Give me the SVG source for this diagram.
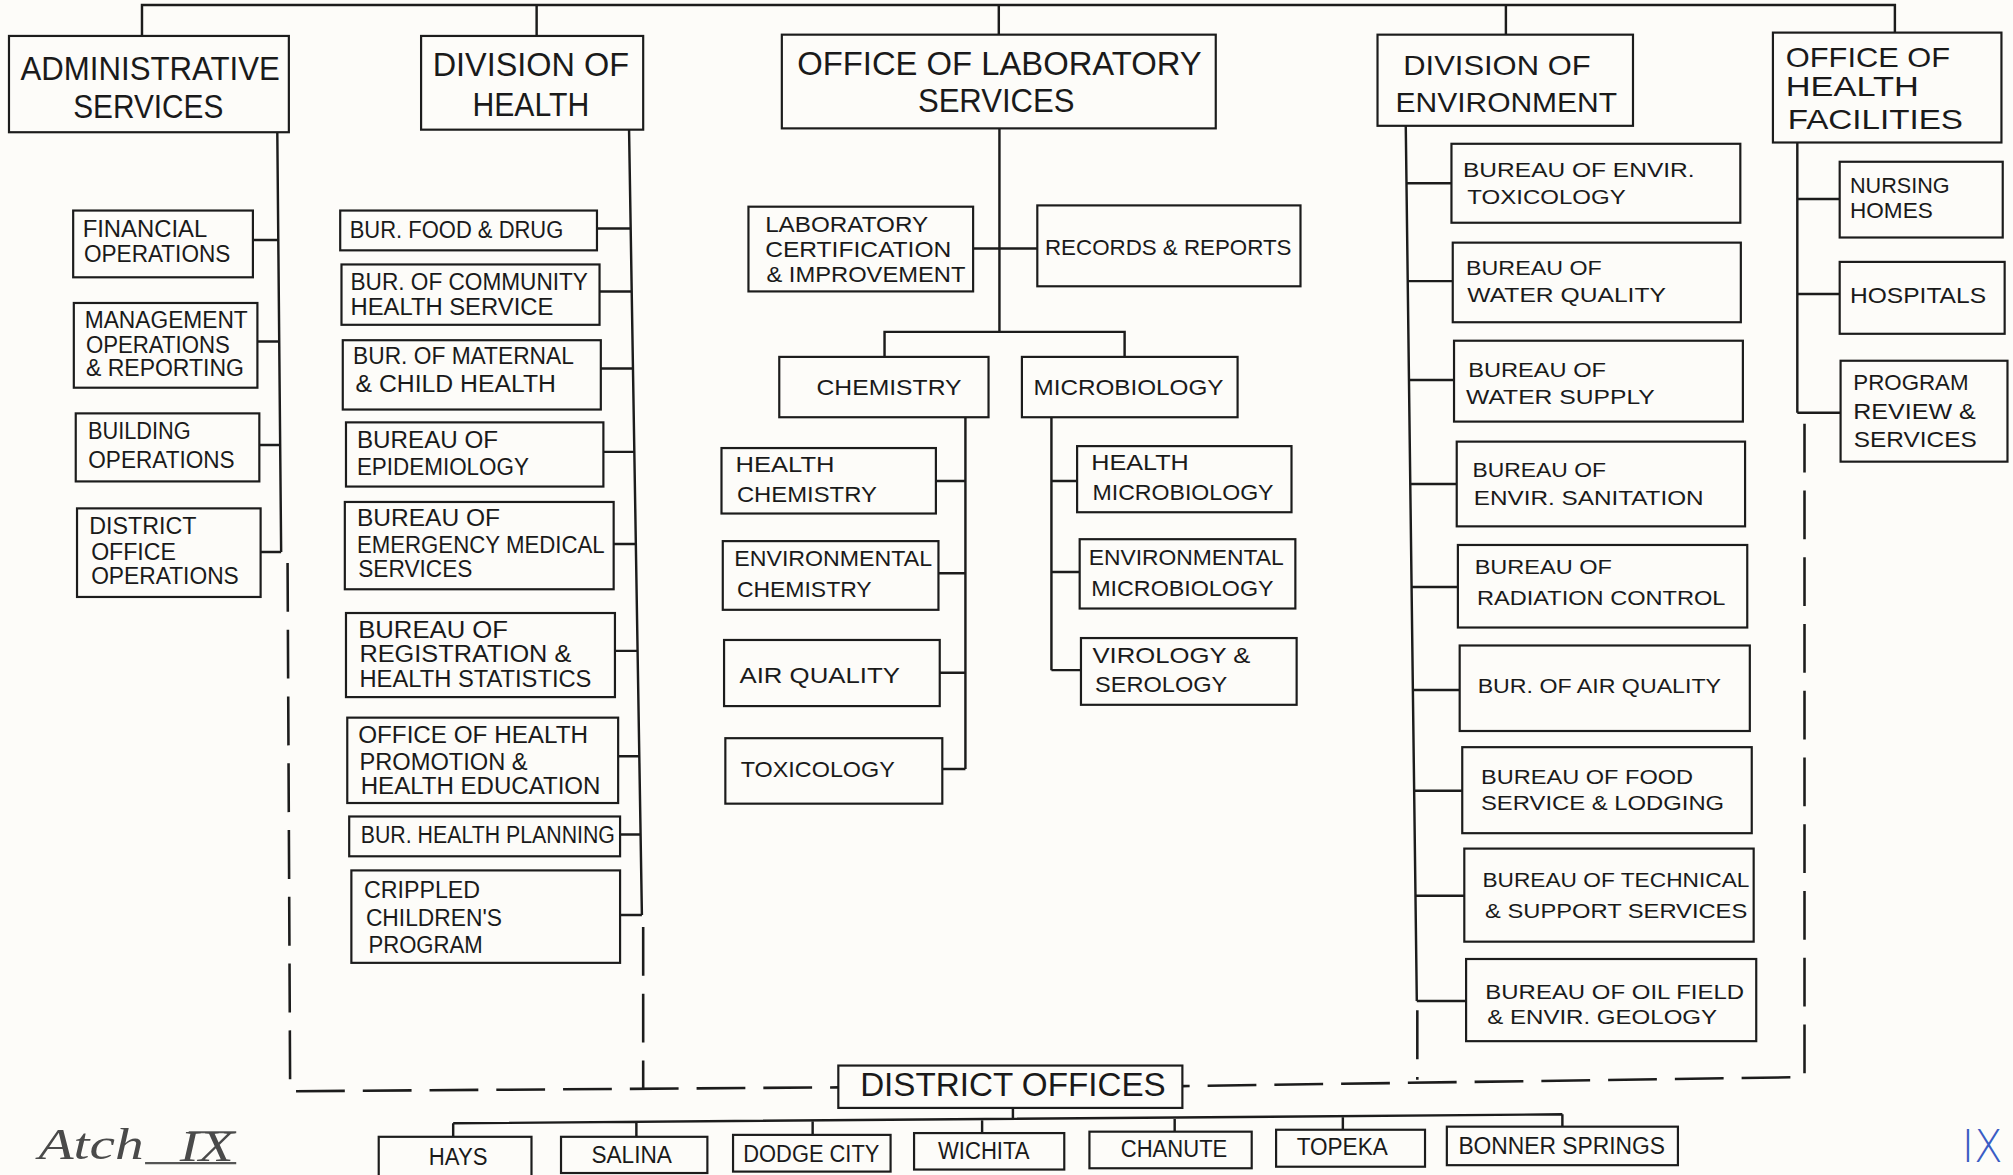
<svg xmlns="http://www.w3.org/2000/svg" width="2013" height="1175" viewBox="0 0 2013 1175">
<style>
.b{fill:#fdfcf9;stroke:#1c1c1c;stroke-width:1.7}
.c{fill:none;stroke:#1c1c1c;stroke-width:1.9;stroke-linejoin:miter}
.d{fill:none;stroke:#1c1c1c;stroke-width:2;stroke-dasharray:38 14}
text{font-family:"Liberation Sans","DejaVu Sans",Arial,sans-serif;fill:#1a1a1a}
.L{font-size:25.5px}
.M{font-size:22px}
.A{font-size:18px}
.S{font-size:17px}
.E{font-size:15.5px}
.H{font-size:16.5px}
.C{font-size:18px}
.hw{font-family:"Liberation Serif","DejaVu Serif",serif;font-style:italic;fill:#4a4a4a;font-size:34px}
.blue{font-family:"DejaVu Sans",sans-serif;fill:#3a5cc4;font-size:34px;font-weight:300}
</style>
<rect width="2013" height="1175" fill="#fdfcf9"/>
<g transform="scale(1.2838)">

<g id="connectors">
  <path class="c" d="M110.6,28 V3.9 H1476 V25.4 M418,3.9 V28 M778,3.9 V27 M1173,3.9 V27"/>
  <path class="c" d="M216,103 L219,430 M197,187 H216.3 M200.6,266 H217 M201.6,346.7 H218 M202.7,430 H219"/>
  <path class="d" d="M224,438.6 L226,850 L653,847"/>
  <path class="c" d="M490,101 L500,712.7 M465,178 H491 M467,227 H491.8 M468,287 H492.8 M470,352 H493.9 M478,423.7 H495 M479,507 H496.3 M481.6,589 H497.6 M483,650 H498.6 M483,712.7 H500"/>
  <path class="d" d="M501,722 V848"/>
  <path class="c" d="M778.5,100 V258.5 M757.8,193.5 H808 M689,278 V258.5 H876 V278"/>
  <path class="c" d="M752,325 V599 M729,374.6 H752 M731,446.5 H752 M732,524 H752 M734,599 H752"/>
  <path class="c" d="M819,325 V522 M819,374.6 H839 M819,445.6 H841 M819,522 H842"/>
  <path class="c" d="M1095,98 L1103.6,779.7 M1095.6,142.8 H1130.6 M1096.5,219 H1131.6 M1097.5,296 H1132.6 M1098.5,377 H1134.7 M1099.5,457.3 H1135.6 M1100.5,537.5 H1137 M1101.5,616 H1139 M1102.6,697.7 H1140.6 M1103.6,779.7 H1142"/>
  <path class="d" d="M1104,787 V841"/>
  <path class="c" d="M1400,111 V321.5 M1400,155 H1433 M1400,229 H1433 M1400,321.5 H1433.7"/>
  <path class="d" d="M1405.6,330 V839 L921,846"/>
  <path class="c" d="M789,863 V871.5 M353,875 L1217,868 M353,875 V885.5 M495.7,874 V885.5 M633,873 V884 M765,872 V882.6 M915,870.8 V881.5 M1046,869.8 V880 M1217,868 V877.6"/>
</g>

<g id="administrative-services">
  <rect class="b" x="7" y="28" width="218" height="75"/>
  <text class="L" x="16" y="62" textLength="202" lengthAdjust="spacingAndGlyphs">ADMINISTRATIVE</text>
  <text class="L" x="57" y="92" textLength="117" lengthAdjust="spacingAndGlyphs">SERVICES</text>
</g>
<g id="financial-operations">
  <rect class="b" x="57" y="164" width="140" height="52"/>
  <text class="A" x="64.4" y="184.5" textLength="97" lengthAdjust="spacingAndGlyphs">FINANCIAL</text>
  <text class="A" x="65.4" y="204" textLength="114" lengthAdjust="spacingAndGlyphs">OPERATIONS</text>
</g>
<g id="management-operations">
  <rect class="b" x="57.5" y="236" width="143" height="66"/>
  <text class="A" x="66" y="255.7" textLength="127" lengthAdjust="spacingAndGlyphs">MANAGEMENT</text>
  <text class="A" x="67" y="275" textLength="112" lengthAdjust="spacingAndGlyphs">OPERATIONS</text>
  <text class="A" x="67" y="293" textLength="123" lengthAdjust="spacingAndGlyphs">&amp; REPORTING</text>
</g>
<g id="building-operations">
  <rect class="b" x="59" y="322" width="143" height="53"/>
  <text class="A" x="68.5" y="342" textLength="80" lengthAdjust="spacingAndGlyphs">BUILDING</text>
  <text class="A" x="68.8" y="364.6" textLength="114" lengthAdjust="spacingAndGlyphs">OPERATIONS</text>
</g>
<g id="district-office-operations">
  <rect class="b" x="60" y="396" width="143" height="69"/>
  <text class="A" x="69.5" y="416" textLength="83.5" lengthAdjust="spacingAndGlyphs">DISTRICT</text>
  <text class="A" x="71" y="436" textLength="66" lengthAdjust="spacingAndGlyphs">OFFICE</text>
  <text class="A" x="71" y="455" textLength="115" lengthAdjust="spacingAndGlyphs">OPERATIONS</text>
</g>

<g id="division-of-health">
  <rect class="b" x="328" y="28" width="173" height="73"/>
  <text class="L" x="337" y="59.5" textLength="153" lengthAdjust="spacingAndGlyphs">DIVISION OF</text>
  <text class="L" x="368" y="90" textLength="91" lengthAdjust="spacingAndGlyphs">HEALTH</text>
</g>
<g id="bur-food-drug">
  <rect class="b" x="265" y="164" width="200" height="31"/>
  <text class="A" x="272.4" y="185.6" textLength="166.4" lengthAdjust="spacingAndGlyphs">BUR. FOOD &amp; DRUG</text>
</g>
<g id="bur-community-health">
  <rect class="b" x="266" y="206" width="201" height="47"/>
  <text class="A" x="273" y="226" textLength="185" lengthAdjust="spacingAndGlyphs">BUR. OF COMMUNITY</text>
  <text class="A" x="273" y="245.5" textLength="158" lengthAdjust="spacingAndGlyphs">HEALTH SERVICE</text>
</g>
<g id="bur-maternal-child">
  <rect class="b" x="267" y="265" width="201" height="54"/>
  <text class="A" x="275" y="283.5" textLength="172" lengthAdjust="spacingAndGlyphs">BUR. OF MATERNAL</text>
  <text class="A" x="277" y="305.5" textLength="156" lengthAdjust="spacingAndGlyphs">&amp; CHILD HEALTH</text>
</g>
<g id="bureau-epidemiology">
  <rect class="b" x="269.5" y="329" width="200.5" height="50"/>
  <text class="A" x="278" y="349" textLength="110" lengthAdjust="spacingAndGlyphs">BUREAU OF</text>
  <text class="A" x="278" y="370" textLength="134" lengthAdjust="spacingAndGlyphs">EPIDEMIOLOGY</text>
</g>
<g id="bureau-ems">
  <rect class="b" x="268.6" y="391" width="209.4" height="68"/>
  <text class="A" x="278" y="410" textLength="111.5" lengthAdjust="spacingAndGlyphs">BUREAU OF</text>
  <text class="A" x="278" y="431" textLength="193" lengthAdjust="spacingAndGlyphs">EMERGENCY MEDICAL</text>
  <text class="A" x="279" y="449.5" textLength="89" lengthAdjust="spacingAndGlyphs">SERVICES</text>
</g>
<g id="bureau-registration">
  <rect class="b" x="269.5" y="477.5" width="209.5" height="65.5"/>
  <text class="A" x="279" y="497" textLength="116.7" lengthAdjust="spacingAndGlyphs">BUREAU OF</text>
  <text class="A" x="280" y="515.7" textLength="165" lengthAdjust="spacingAndGlyphs">REGISTRATION &amp;</text>
  <text class="A" x="280" y="535" textLength="180.7" lengthAdjust="spacingAndGlyphs">HEALTH STATISTICS</text>
</g>
<g id="office-health-promotion">
  <rect class="b" x="270.5" y="559" width="211" height="66.5"/>
  <text class="A" x="279" y="579" textLength="179" lengthAdjust="spacingAndGlyphs">OFFICE OF HEALTH</text>
  <text class="A" x="280" y="600" textLength="131" lengthAdjust="spacingAndGlyphs">PROMOTION &amp;</text>
  <text class="A" x="281" y="618.5" textLength="186.7" lengthAdjust="spacingAndGlyphs">HEALTH EDUCATION</text>
</g>
<g id="bur-health-planning">
  <rect class="b" x="272" y="636" width="211" height="31"/>
  <text class="A" x="281" y="656.7" textLength="198" lengthAdjust="spacingAndGlyphs">BUR. HEALTH PLANNING</text>
</g>
<g id="crippled-childrens-program">
  <rect class="b" x="273.7" y="678" width="209.3" height="72"/>
  <text class="A" x="283.5" y="699.6" textLength="90.5" lengthAdjust="spacingAndGlyphs">CRIPPLED</text>
  <text class="A" x="285" y="721.5" textLength="106" lengthAdjust="spacingAndGlyphs">CHILDREN'S</text>
  <text class="A" x="287" y="742.5" textLength="89" lengthAdjust="spacingAndGlyphs">PROGRAM</text>
</g>

<g id="office-laboratory-services">
  <rect class="b" x="609" y="27" width="338" height="73"/>
  <text class="L" x="621" y="58.4" textLength="315" lengthAdjust="spacingAndGlyphs">OFFICE OF LABORATORY</text>
  <text class="L" x="715" y="87" textLength="122" lengthAdjust="spacingAndGlyphs">SERVICES</text>
</g>
<g id="lab-certification">
  <rect class="b" x="583" y="161" width="175" height="66"/>
  <text class="S" x="596" y="180.5" textLength="127" lengthAdjust="spacingAndGlyphs">LABORATORY</text>
  <text class="S" x="596" y="200" textLength="145" lengthAdjust="spacingAndGlyphs">CERTIFICATION</text>
  <text class="S" x="597" y="219.5" textLength="155" lengthAdjust="spacingAndGlyphs">&amp; IMPROVEMENT</text>
</g>
<g id="records-reports">
  <rect class="b" x="808" y="160" width="205" height="63"/>
  <text class="S" x="814" y="199" textLength="192" lengthAdjust="spacingAndGlyphs">RECORDS &amp; REPORTS</text>
</g>
<g id="chemistry">
  <rect class="b" x="607" y="278" width="163" height="47"/>
  <text class="S" x="636" y="308" textLength="113" lengthAdjust="spacingAndGlyphs">CHEMISTRY</text>
</g>
<g id="microbiology">
  <rect class="b" x="796" y="278" width="168" height="47"/>
  <text class="S" x="805" y="308" textLength="148" lengthAdjust="spacingAndGlyphs">MICROBIOLOGY</text>
</g>
<g id="health-chemistry">
  <rect class="b" x="562" y="349" width="167" height="51"/>
  <text class="S" x="573" y="367.5" textLength="77" lengthAdjust="spacingAndGlyphs">HEALTH</text>
  <text class="S" x="574" y="391" textLength="109" lengthAdjust="spacingAndGlyphs">CHEMISTRY</text>
</g>
<g id="environmental-chemistry">
  <rect class="b" x="563" y="421.5" width="168" height="53.5"/>
  <text class="S" x="572" y="441" textLength="154" lengthAdjust="spacingAndGlyphs">ENVIRONMENTAL</text>
  <text class="S" x="574" y="465" textLength="105" lengthAdjust="spacingAndGlyphs">CHEMISTRY</text>
</g>
<g id="air-quality">
  <rect class="b" x="564" y="498.5" width="168" height="51.5"/>
  <text class="S" x="576" y="532" textLength="125" lengthAdjust="spacingAndGlyphs">AIR QUALITY</text>
</g>
<g id="toxicology">
  <rect class="b" x="565" y="575" width="169" height="51"/>
  <text class="S" x="577" y="605" textLength="120" lengthAdjust="spacingAndGlyphs">TOXICOLOGY</text>
</g>
<g id="health-microbiology">
  <rect class="b" x="839" y="347.5" width="167" height="51.5"/>
  <text class="S" x="850" y="366" textLength="76" lengthAdjust="spacingAndGlyphs">HEALTH</text>
  <text class="S" x="851" y="389.5" textLength="141" lengthAdjust="spacingAndGlyphs">MICROBIOLOGY</text>
</g>
<g id="environmental-microbiology">
  <rect class="b" x="841" y="420" width="168" height="54"/>
  <text class="S" x="848" y="440" textLength="152" lengthAdjust="spacingAndGlyphs">ENVIRONMENTAL</text>
  <text class="S" x="850" y="464.5" textLength="142" lengthAdjust="spacingAndGlyphs">MICROBIOLOGY</text>
</g>
<g id="virology-serology">
  <rect class="b" x="842" y="497" width="168" height="52"/>
  <text class="S" x="851" y="516.5" textLength="123" lengthAdjust="spacingAndGlyphs">VIROLOGY &amp;</text>
  <text class="S" x="853" y="539" textLength="103" lengthAdjust="spacingAndGlyphs">SEROLOGY</text>
</g>

<g id="division-of-environment">
  <rect class="b" x="1073" y="27" width="199" height="71"/>
  <text class="M" x="1093" y="58.4" textLength="146" lengthAdjust="spacingAndGlyphs">DIVISION OF</text>
  <text class="M" x="1087" y="87" textLength="172.6" lengthAdjust="spacingAndGlyphs">ENVIRONMENT</text>
</g>
<g id="bureau-envir-toxicology">
  <rect class="b" x="1130.6" y="112" width="225" height="61.5"/>
  <text class="E" x="1139.6" y="137.6" textLength="180.4" lengthAdjust="spacingAndGlyphs">BUREAU OF ENVIR.</text>
  <text class="E" x="1143" y="159" textLength="123.3" lengthAdjust="spacingAndGlyphs">TOXICOLOGY</text>
</g>
<g id="bureau-water-quality">
  <rect class="b" x="1131.6" y="189" width="224.4" height="62"/>
  <text class="E" x="1142" y="214" textLength="105.6" lengthAdjust="spacingAndGlyphs">BUREAU OF</text>
  <text class="E" x="1143" y="235" textLength="154.7" lengthAdjust="spacingAndGlyphs">WATER QUALITY</text>
</g>
<g id="bureau-water-supply">
  <rect class="b" x="1132.6" y="265.4" width="225" height="63"/>
  <text class="E" x="1143.6" y="293.4" textLength="107.4" lengthAdjust="spacingAndGlyphs">BUREAU OF</text>
  <text class="E" x="1142" y="314.7" textLength="147" lengthAdjust="spacingAndGlyphs">WATER SUPPLY</text>
</g>
<g id="bureau-envir-sanitation">
  <rect class="b" x="1134.7" y="344" width="224.6" height="66"/>
  <text class="E" x="1147" y="371.3" textLength="104" lengthAdjust="spacingAndGlyphs">BUREAU OF</text>
  <text class="E" x="1148" y="393.4" textLength="179" lengthAdjust="spacingAndGlyphs">ENVIR. SANITATION</text>
</g>
<g id="bureau-radiation-control">
  <rect class="b" x="1135.6" y="424.5" width="225.4" height="64.3"/>
  <text class="E" x="1148.7" y="447" textLength="106.9" lengthAdjust="spacingAndGlyphs">BUREAU OF</text>
  <text class="E" x="1150.5" y="470.9" textLength="193.5" lengthAdjust="spacingAndGlyphs">RADIATION CONTROL</text>
</g>
<g id="bur-air-quality">
  <rect class="b" x="1137" y="502.8" width="226" height="66.6"/>
  <text class="E" x="1151" y="539.5" textLength="189.6" lengthAdjust="spacingAndGlyphs">BUR. OF AIR QUALITY</text>
</g>
<g id="bureau-food-service">
  <rect class="b" x="1139" y="582" width="225.5" height="67"/>
  <text class="E" x="1153.6" y="611" textLength="165.2" lengthAdjust="spacingAndGlyphs">BUREAU OF FOOD</text>
  <text class="E" x="1153.6" y="631" textLength="189.4" lengthAdjust="spacingAndGlyphs">SERVICE &amp; LODGING</text>
</g>
<g id="bureau-technical-support">
  <rect class="b" x="1140.6" y="661" width="225.4" height="72.5"/>
  <text class="E" x="1154.7" y="691" textLength="208" lengthAdjust="spacingAndGlyphs">BUREAU OF TECHNICAL</text>
  <text class="E" x="1156.8" y="714.7" textLength="204.2" lengthAdjust="spacingAndGlyphs">&amp; SUPPORT SERVICES</text>
</g>
<g id="bureau-oil-field">
  <rect class="b" x="1142" y="747" width="226" height="64"/>
  <text class="E" x="1157" y="778" textLength="201.5" lengthAdjust="spacingAndGlyphs">BUREAU OF OIL FIELD</text>
  <text class="E" x="1158.5" y="797.6" textLength="179" lengthAdjust="spacingAndGlyphs">&amp; ENVIR. GEOLOGY</text>
</g>

<g id="office-health-facilities">
  <rect class="b" x="1381" y="25.4" width="178" height="85.6"/>
  <text class="M" x="1391" y="52" textLength="128" lengthAdjust="spacingAndGlyphs">OFFICE OF</text>
  <text class="M" x="1391" y="75" textLength="103.6" lengthAdjust="spacingAndGlyphs">HEALTH</text>
  <text class="M" x="1392.5" y="100.7" textLength="136.5" lengthAdjust="spacingAndGlyphs">FACILITIES</text>
</g>
<g id="nursing-homes">
  <rect class="b" x="1433" y="126" width="127" height="59"/>
  <text class="H" x="1441" y="150" textLength="77.6" lengthAdjust="spacingAndGlyphs">NURSING</text>
  <text class="H" x="1441" y="170" textLength="64.5" lengthAdjust="spacingAndGlyphs">HOMES</text>
</g>
<g id="hospitals">
  <rect class="b" x="1433" y="204" width="128.5" height="56"/>
  <text class="H" x="1441" y="235.8" textLength="106" lengthAdjust="spacingAndGlyphs">HOSPITALS</text>
</g>
<g id="program-review-services">
  <rect class="b" x="1433.7" y="281" width="130" height="78.6"/>
  <text class="H" x="1443.6" y="304" textLength="89.8" lengthAdjust="spacingAndGlyphs">PROGRAM</text>
  <text class="H" x="1443.6" y="326.5" textLength="95.4" lengthAdjust="spacingAndGlyphs">REVIEW &amp;</text>
  <text class="H" x="1444" y="348.3" textLength="95.7" lengthAdjust="spacingAndGlyphs">SERVICES</text>
</g>

<g id="district-offices">
  <rect class="b" x="653" y="830" width="268" height="33"/>
  <text class="L" x="670" y="854" textLength="238" lengthAdjust="spacingAndGlyphs">DISTRICT OFFICES</text>
</g>
<g id="hays">
  <rect class="b" x="295" y="885.5" width="119" height="34"/>
  <text class="C" x="334" y="907.5" textLength="45.7" lengthAdjust="spacingAndGlyphs">HAYS</text>
</g>
<g id="salina">
  <rect class="b" x="437" y="885.5" width="114" height="28.2"/>
  <text class="C" x="460.7" y="906" textLength="62.7" lengthAdjust="spacingAndGlyphs">SALINA</text>
</g>
<g id="dodge-city">
  <rect class="b" x="571" y="884" width="122.7" height="28.6"/>
  <text class="C" x="579" y="905" textLength="106" lengthAdjust="spacingAndGlyphs">DODGE CITY</text>
</g>
<g id="wichita">
  <rect class="b" x="712" y="882.6" width="117" height="28.4"/>
  <text class="C" x="730.6" y="903" textLength="71.4" lengthAdjust="spacingAndGlyphs">WICHITA</text>
</g>
<g id="chanute">
  <rect class="b" x="848.6" y="881.5" width="126.4" height="28.5"/>
  <text class="C" x="873" y="901" textLength="83" lengthAdjust="spacingAndGlyphs">CHANUTE</text>
</g>
<g id="topeka">
  <rect class="b" x="994" y="880" width="116" height="28.8"/>
  <text class="C" x="1010" y="899.7" textLength="71" lengthAdjust="spacingAndGlyphs">TOPEKA</text>
</g>
<g id="bonner-springs">
  <rect class="b" x="1127" y="877.6" width="180" height="30"/>
  <text class="C" x="1136" y="899" textLength="161" lengthAdjust="spacingAndGlyphs">BONNER SPRINGS</text>
</g>

<g id="annotations">
  <text class="hw" x="30" y="903" textLength="82" lengthAdjust="spacingAndGlyphs">Atch</text>
  <path d="M113,906 H184 M147,882 H184" fill="none" stroke="#555" stroke-width="1.6"/>
  <text class="hw" x="140" y="904" textLength="42" lengthAdjust="spacingAndGlyphs">IX</text>
  <text class="blue" x="1528" y="905" textLength="32" lengthAdjust="spacingAndGlyphs">IX</text>
</g>
</g>
</svg>
